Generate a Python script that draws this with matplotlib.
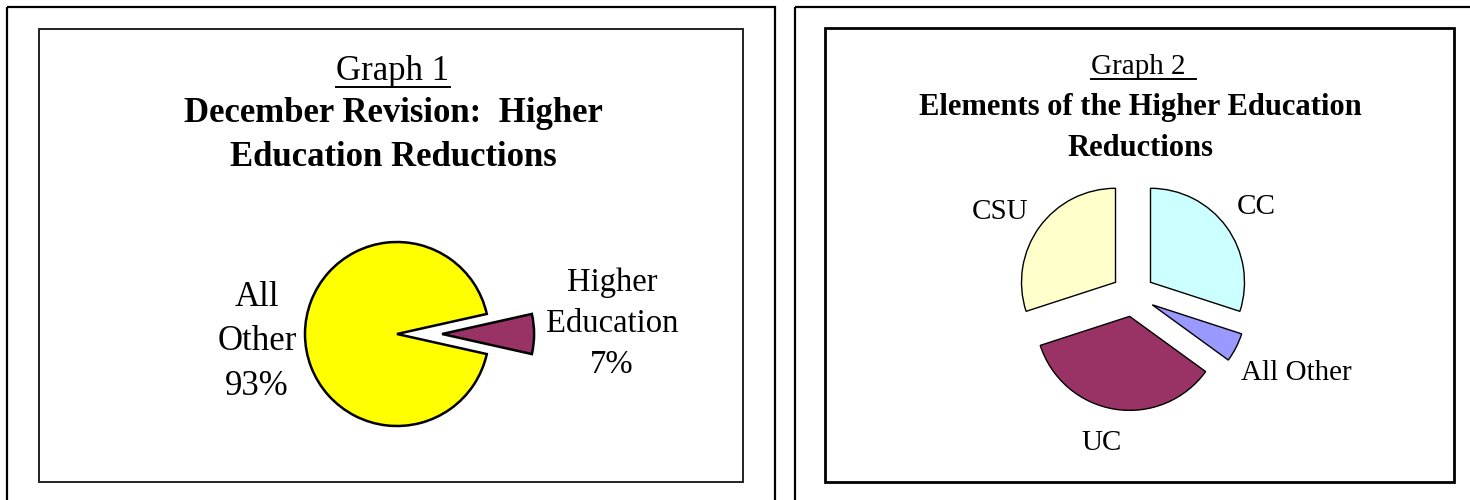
import matplotlib
matplotlib.use('Agg')
import matplotlib.pyplot as plt
from matplotlib.patches import Rectangle

# Graph 1 data (share of the December revision, %)
g1_labels = ['All\nOther\n93%', 'Higher\nEducation\n7%']
g1_values = [93, 7]
g1_colors = ['#FFFF00', '#993366']
g1_explode = [0, 0.49]

# Graph 2 data (elements of the higher education reductions, %)
g2_labels = ['CC', 'All Other', 'UC', 'CSU']
g2_values = [30, 5, 35, 30]
g2_colors = ['#CCFFFF', '#9999FF', '#993366', '#FFFFCC']
g2_explode = [0.23, 0.23, 0.23, 0.23]

W, H = 1470, 500
plt.rcParams['font.family'] = ['Liberation Serif', 'DejaVu Serif']

fig = plt.figure(figsize=(W / 100, H / 100), dpi=100)
bg = fig.add_axes([0, 0, 1, 1])
bg.set_xlim(0, W)
bg.set_ylim(H, 0)
bg.axis('off')

# Frames (outer ones run off the bottom / right edge)
bg.add_patch(Rectangle((7, 7), 768, 520, fill=False, lw=1.6, ec='black'))
bg.add_patch(Rectangle((39, 29), 704, 453, fill=False, lw=1.4, ec='#222222'))
bg.add_patch(Rectangle((795, 7), 700, 520, fill=False, lw=1.6, ec='black'))
bg.add_patch(Rectangle((825, 28), 629, 454, fill=False, lw=2.0, ec='black'))


def underlined(x, y, s, size, ul_right=None):
    t = bg.text(x, y, s, fontsize=size, ha='center', va='center')
    fig.canvas.draw()
    bb = t.get_window_extent(renderer=fig.canvas.get_renderer())
    x0, x1 = bb.x0, bb.x1 if ul_right is None else ul_right
    y_ul = H - bb.y0 - 1
    bg.plot([x0, x1], [y_ul, y_ul], color='black', lw=1.4)


# Titles
underlined(393, 71, 'Graph 1', 25)
bg.text(393, 113, 'December Revision:  Higher', fontsize=25, fontweight='bold',
        ha='center', va='center')
bg.text(393, 157, 'Education Reductions', fontsize=25, fontweight='bold',
        ha='center', va='center')

underlined(1138, 67, 'Graph 2', 21, ul_right=1196)
bg.text(1140, 108, 'Elements of the Higher Education', fontsize=22,
        fontweight='bold', ha='center', va='center')
bg.text(1140, 148, 'Reductions', fontsize=22, fontweight='bold',
        ha='center', va='center')


def pie_axes(cx, cy, r, lim=1.8):
    s = 2 * r * lim
    ax = fig.add_axes([(cx - r * lim) / W, (H - cy - r * lim) / H, s / W, s / H])
    return ax, lim


# Graph 1 pie
ax1, lim = pie_axes(397, 334, 92)
ax1.pie(g1_values, colors=g1_colors, explode=g1_explode, startangle=g1_values[1] * 1.8,
        wedgeprops=dict(edgecolor='black', linewidth=1.8))
ax1.set_xlim(-lim, lim)
ax1.set_ylim(-lim, lim)
ax1.axis('off')

bg.text(257, 342, g1_labels[0], fontsize=25, ha='center', va='center', linespacing=1.45)
bg.text(612, 324, g1_labels[1], fontsize=23.5, ha='center', va='center', linespacing=1.45)

# Graph 2 pie
ax2, lim = pie_axes(1133, 295, 94)
ax2.pie(g2_values, colors=g2_colors, explode=g2_explode, startangle=90,
        counterclock=False, wedgeprops=dict(edgecolor='black', linewidth=1.0))
ax2.set_xlim(-lim, lim)
ax2.set_ylim(-lim, lim)
ax2.axis('off')

g2_label_pos = [(1256, 207), (1296, 373), (1102, 443), (1000, 212)]
for lab, (lx, ly) in zip(g2_labels, g2_label_pos):
    bg.text(lx, ly, lab, fontsize=21, ha='center', va='center')

fig.savefig('out.png', dpi=100)
